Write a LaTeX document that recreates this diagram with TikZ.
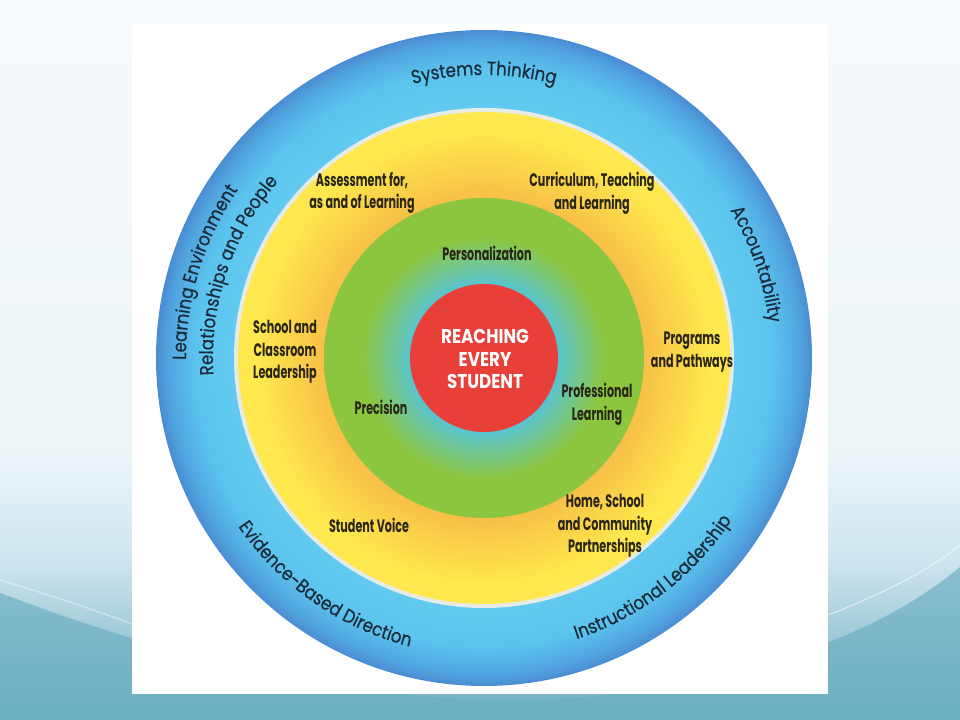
\documentclass[tikz,border=0pt]{standalone}
\usepackage{fontspec}
\setmainfont{Poppins}
\newfontfamily\ringfont{Poppins}[FakeStretch=0.88, FakeBold=0.5]
\newfontfamily\labelfont{Poppins}[FakeStretch=0.62]
\newfontfamily\centerfont{Poppins}[FakeStretch=0.84]
\usetikzlibrary{decorations.text}

\definecolor{bgtop}{HTML}{F6FAFC}
\definecolor{bglt}{HTML}{EEF6F9}
\definecolor{bgmid}{HTML}{CFE5ED}
\definecolor{bgdk}{HTML}{9CC9D7}
\definecolor{bgbot}{HTML}{6AADC2}
\definecolor{wavetop}{HTML}{88BFCF}
\definecolor{wavebot}{HTML}{6BAEC2}
\definecolor{bluelt}{HTML}{62CAF0}
\definecolor{bluemd}{HTML}{5BC4EE}
\definecolor{bluedeep}{HTML}{51A6E0}
\definecolor{bluedk}{HTML}{4A8CD2}
\definecolor{ringwhite}{HTML}{E6EBE6}
\definecolor{yellowc}{HTML}{FEE84E}
\definecolor{yellowmd}{HTML}{FAD049}
\definecolor{orangec}{HTML}{F8C048}
\definecolor{greenc}{HTML}{8CC63F}
\definecolor{greenmix}{HTML}{73C791}
\definecolor{tealc}{HTML}{58C4CF}
\definecolor{redc}{HTML}{E83F38}
\definecolor{labelink}{HTML}{2A2616}
\definecolor{ringink}{HTML}{1C2B3A}

% 25bp is the rim of the circle that is shaded
\pgfdeclareradialshading{bluedisc}{\pgfpoint{0bp}{0bp}}{color(0bp)=(bluelt); color(19bp)=(bluelt); color(22bp)=(bluemd); color(24bp)=(bluedeep); color(25bp)=(bluedk); color(50bp)=(bluedk)}
\pgfdeclareradialshading{yellowdisc}{\pgfpoint{0bp}{0bp}}{color(0bp)=(orangec); color(16.3bp)=(orangec); color(19bp)=(yellowmd); color(23bp)=(yellowc); color(50bp)=(yellowc)}
\pgfdeclareradialshading{greendisc}{\pgfpoint{0bp}{0bp}}{color(0bp)=(tealc); color(11.6bp)=(tealc); color(14.8bp)=(greenmix); color(19bp)=(greenc); color(50bp)=(greenc)}
\pgfdeclareverticalshading{slidebg}{100bp}{color(0bp)=(bgbot); color(25bp)=(bgbot); color(30.6bp)=(bgdk); color(36.1bp)=(bgmid); color(43.8bp)=(bglt); color(75bp)=(bgtop); color(100bp)=(bgtop)}

\newcommand\ringtype{\ringfont\fontsize{14.2}{16}\selectfont}

\begin{document}
\begin{tikzpicture}[x=0.75pt,y=0.75pt,
    areatext/.style={font=\labelfont\bfseries\fontsize{13.5}{17}\selectfont, text=labelink, align=center, inner sep=0pt},
    ringtext/.style={decorate, decoration={text along path, text align=center, text color=ringink}},
  ]
  \useasboundingbox (0,0) rectangle (960,720);
  % slide background and waves
  \shade[shading=slidebg] (0,0) rectangle (960,720);
  \shade[top color=wavetop, bottom color=wavebot] (0,127) .. controls (60,105) and (250,30) .. (480,20)
    .. controls (650,15) and (850,60) .. (960,153) -- (960,0) -- (0,0) -- cycle;
  \draw[white, opacity=0.5, line width=1] (828,105) .. controls (880,125) and (930,150) .. (960,175);
  \draw[white, opacity=0.4, line width=1] (0,140) .. controls (50,125) and (100,108) .. (132,96);
  \fill[white] (132,26) rectangle (828,696);

  % rings
  \coordinate (C) at (484,362);
  \shade[shading=bluedisc] (C) circle[radius=328];
  \fill[ringwhite] (C) circle[radius=250];
  \shade[shading=yellowdisc] (C) circle[radius=246];
  \shade[shading=greendisc] (C) circle[radius=160];
  \fill[redc] (C) circle[radius=74];

  % outer ring texts
  \path[ringtext, shift={(C)}, decoration={text={|\ringtype|Systems Thinking}}] (150:283) arc[start angle=150, end angle=30, radius=283];
  \path[ringtext, shift={(C)}, decoration={text={|\ringtype|Accountability}}] (60:287) arc[start angle=60, end angle=-22, radius=287];
  \path[ringtext, shift={(C)}, decoration={text={|\ringtype|Instructional Leadership}}] (-92:296) arc[start angle=-92, end angle=-13, radius=296];
  \path[ringtext, shift={(C)}, decoration={text={|\ringtype|Evidence-Based Direction}}] (-165:298) arc[start angle=-165, end angle=-85, radius=298];
  \path[ringtext, shift={(C)}, decoration={text={|\ringtype|Learning Environment}}] (200:298) arc[start angle=200, end angle=126, radius=298];
  \path[ringtext, shift={(C)}, decoration={text={|\ringtype|Relationships and People}}] (200:271) arc[start angle=200, end angle=123, radius=271];

  % inner labels
  \node[areatext] (assess) at (362,527) {Assessment for,\\as and of Learning};
  \node[areatext] (curric) at (592,527) {Curriculum, Teaching\\and Learning};
  \node[areatext] (person) at (487,467) {Personalization};
  \node[areatext] (school) at (285,368) {School and\\Classroom\\Leadership};
  \node[areatext] (prog) at (692,368) {Programs\\and Pathways};
  \node[areatext] (precis) at (381,313) {Precision};
  \node[areatext] (profl) at (597,316) {Professional\\Learning};
  \node[areatext] (voice) at (369,195) {Student Voice};
  \node[areatext] (home) at (605,194) {Home, School\\and Community\\Partnerships};
  \node[font=\centerfont\bfseries\fontsize{15}{17}\selectfont, text=white, align=center, inner sep=0pt] (reach) at (485,361) {REACHING\\EVERY\\STUDENT};
\end{tikzpicture}
\end{document}
